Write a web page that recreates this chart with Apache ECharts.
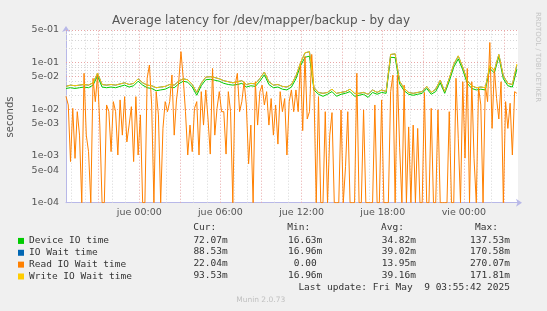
<!DOCTYPE html>
<html><head><meta charset="utf-8">
<script src="https://cdn.jsdelivr.net/npm/echarts@6/dist/echarts.min.js"></script>
<style>html,body{margin:0;padding:0;background:#f0f0f0}#c{width:547px;height:311px}</style>
</head><body><div id="c"></div>
<script>
// ---- data ----
const seriesNames = ['Device IO time', 'IO Wait time', 'Read IO Wait time', 'Write IO Wait time'];
const seriesColors = ['#00cc00', '#0066b3', '#ff8000', '#ffcc00'];
const curVals = ['72.07m', '88.53m', '22.04m', '93.53m'];
const minVals = ['16.63m', '16.96m', '0.00', '16.96m'];
const avgVals = ['34.82m', '39.02m', '13.95m', '39.16m'];
const maxVals = ['137.53m', '170.58m', '270.07m', '171.81m'];
const xTickDays = ['dom', 'lun', 'mar', 'mié', 'jue', 'vie', 'sáb'];
const yTickValues = [0.0001, 0.0005, 0.001, 0.005, 0.01, 0.05, 0.1, 0.5];

const startTime = new Date(2025, 4, 7, 18, 35).getTime();
const endTime = new Date(2025, 4, 9, 4, 0).getTime();

// Device IO time, every 20 min
const deviceVals = [
0.028,0.029,0.028,0.029,0.030,0.029,0.033,0.052,0.030,0.029,
0.030,0.029,0.031,0.033,0.030,0.032,0.040,0.033,0.029,0.028,
0.025,0.026,0.027,0.030,0.029,0.035,0.040,0.038,0.030,0.020,
0.032,0.043,0.044,0.042,0.040,0.036,0.034,0.033,0.034,0.036,
0.030,0.032,0.031,0.040,0.055,0.034,0.029,0.030,0.027,0.026,
0.030,0.045,0.085,0.130,0.1375,0.026,0.021,0.019,0.021,0.024,
0.019,0.021,0.022,0.024,0.019,0.020,0.021,0.018,0.023,0.021,
0.023,0.022,0.130,0.128,0.035,0.025,0.021,0.020,0.021,0.022,
0.028,0.021,0.024,0.037,0.022,0.040,0.080,0.120,0.070,0.036,
0.028,0.026,0.027,0.026,0.075,0.060,0.135,0.045,0.032,0.030,
0.072];
// IO Wait time, every 20 min
const ioWaitVals = [
0.031,0.033,0.032,0.033,0.034,0.033,0.037,0.059,0.034,0.033,
0.034,0.033,0.035,0.037,0.034,0.036,0.045,0.037,0.033,0.032,
0.029,0.030,0.031,0.034,0.033,0.040,0.045,0.043,0.034,0.023,
0.036,0.049,0.050,0.048,0.045,0.041,0.039,0.037,0.039,0.041,
0.034,0.036,0.035,0.046,0.063,0.039,0.033,0.034,0.031,0.030,
0.034,0.052,0.097,0.162,0.1706,0.029,0.023,0.022,0.023,0.027,
0.022,0.023,0.024,0.027,0.022,0.022,0.023,0.021,0.026,0.023,
0.026,0.024,0.149,0.154,0.040,0.028,0.023,0.022,0.023,0.024,
0.031,0.023,0.027,0.042,0.024,0.046,0.091,0.139,0.080,0.041,
0.032,0.029,0.030,0.029,0.085,0.068,0.149,0.052,0.036,0.034,
0.0885];
// Read IO Wait time, every 10 min
const readVals = [
0.019,0.0124,0.00076,0.0105,0.00089,0.0089,0.0028,0.0001,0.059,0.0028,
0.00124,0.0001,0.046,0.0146,0.0545,0.0046,0.0001,0.0001,0.0124,0.0089,
0.00124,0.0146,0.0089,0.00105,0.0159,0.0028,0.0187,0.0020,0.0046,0.0114,
0.00076,0.0187,0.00105,0.0076,0.0001,0.0001,0.0463,0.089,0.0124,0.0001,
0.0239,0.0076,0.0001,0.0039,0.0146,0.0089,0.0146,0.0545,0.0028,0.0159,
0.039,0.172,
0.0463,0.0089,0.00105,0.0046,0.00124,0.0105,0.0146,0.00105,0.0239,0.0046,
0.026,0.0062,0.0011,0.075,0.0028,0.0105,0.0239,0.0089,0.0089,0.0011,
0.0239,0.0089,0.0001,0.033,0.059,0.0089,0.0146,0.039,0.0124,0.00068,
0.0046,0.0001,0.039,0.0046,0.0239,0.033,0.0124,0.0239,0.0046,0.017,
0.0028,0.0124,0.0018,0.0239,0.0089,0.017,0.00105,0.0146,0.026,0.0089,
0.026,0.0089,0.104,
0.0035,0.136,0.0062,0.0089,0.15,0.0239,0.0001,0.0187,0.0001,0.0001,
0.0089,0.0001,0.0028,0.0085,0.0001,0.0001,0.0001,0.0097,0.0001,0.0006,
0.0089,0.0001,0.0001,0.0001,0.059,0.0001,0.0001,0.0097,0.0001,0.0001,
0.0001,0.0001,0.0124,0.0001,0.0001,0.0159,0.0001,0.0001,0.0001,0.0239,
0.054,0.0001,0.054,0.0015,0.0001,0.033,0.0001,0.0042,0.0001,0.0046,
0.0001,0.0039,0.0001,
0.0001,0.023,0.0001,0.0001,0.0105,0.0001,0.0001,0.0097,0.0001,0.0001,
0.0001,0.0001,0.0089,0.0001,0.0001,0.0463,0.0024,0.0001,0.039,0.0009,
0.075,0.0001,0.039,0.00089,0.0001,0.03,0.0124,0.0001,0.033,0.0146,
0.27,0.0039,0.075,0.017,0.0062,0.039,0.0001,0.0146,0.0039,0.0135,
0.00105,0.0239,0.022];
// Write IO Wait time, every 20 min
const writeVals = [
0.031,0.033,0.032,0.033,0.034,0.033,0.037,0.060,0.034,0.033,
0.034,0.033,0.035,0.037,0.034,0.036,0.045,0.037,0.033,0.032,
0.029,0.030,0.031,0.034,0.033,0.040,0.045,0.043,0.034,0.023,
0.036,0.049,0.050,0.048,0.045,0.041,0.039,0.037,0.039,0.041,
0.034,0.036,0.035,0.046,0.063,0.039,0.033,0.034,0.031,0.030,
0.034,0.052,0.098,0.163,0.1718,0.029,0.023,0.022,0.023,0.027,
0.022,0.023,0.024,0.027,0.022,0.022,0.023,0.021,0.026,0.023,
0.026,0.024,0.150,0.155,0.040,0.028,0.023,0.022,0.023,0.024,
0.031,0.023,0.027,0.042,0.024,0.046,0.092,0.140,0.080,0.041,
0.032,0.029,0.030,0.029,0.086,0.068,0.150,0.052,0.036,0.034,
0.0935];

// ---- build ----
function pairs(vals, stepMin) {
  return vals.map((v, i) => [startTime + i * stepMin * 60000, v]);
}
function fmtExp(v) {
  let e = Math.floor(Math.log10(v) + 1e-9);
  let m = Math.round(v / Math.pow(10, e));
  if (m === 10) { m = 1; e++; }
  return m + 'e' + (e < 0 ? '-' : '+') + String(Math.abs(e)).padStart(2, '0');
}
const MAJ = '#e8a6a6', MIN = '#d6d6d6';
const gridLines = [];
for (let e = -4; e <= -1; e++) {
  for (let m = 1; m <= 9; m++) {
    const v = m * Math.pow(10, e);
    if (v > 0.5 + 1e-9) continue;
    const major = (m === 1 || m === 5);
    gridLines.push({ yAxis: v, lineStyle: { color: major ? MAJ : MIN, type: [1, 2], width: 1 } });
  }
}
const xLabelValues = [];
for (let t = new Date(2025, 4, 7, 19, 0).getTime(); t < endTime; t += 3600000) {
  const h = new Date(t).getHours();
  gridLines.push({ xAxis: t, lineStyle: { color: h % 3 === 0 ? MAJ : MIN, type: [1, 2], width: 1 } });
  if (h % 6 === 0) xLabelValues.push(t);
}

const mono = '"DejaVu Sans Mono", monospace';
const graphics = [
  { type: 'text', x: 10, y: 117, rotation: Math.PI / 2,
    style: { text: 'seconds', font: '10px "DejaVu Sans"', fill: '#555', align: 'center', verticalAlign: 'middle' } },
  { type: 'text', x: 537.5, y: 57, rotation: -Math.PI / 2,
    style: { text: 'RRDTOOL / TOBI OETIKER', font: '7px "DejaVu Sans"', fill: '#c4c4c4', align: 'center', verticalAlign: 'middle' } },
  { type: 'text', x: 193.3, y: 228, style: { text: 'Cur:', font: '9.5px ' + mono, fill: '#333', align: 'left', verticalAlign: 'middle' } },
  { type: 'text', x: 287.3, y: 228, style: { text: 'Min:', font: '9.5px ' + mono, fill: '#333', align: 'left', verticalAlign: 'middle' } },
  { type: 'text', x: 381, y: 228, style: { text: 'Avg:', font: '9.5px ' + mono, fill: '#333', align: 'left', verticalAlign: 'middle' } },
  { type: 'text', x: 475, y: 228, style: { text: 'Max:', font: '9.5px ' + mono, fill: '#333', align: 'left', verticalAlign: 'middle' } },
  { type: 'text', x: 510, y: 288, style: { text: 'Last update: Fri May  9 03:55:42 2025', font: '9.5px ' + mono, fill: '#333', align: 'right', verticalAlign: 'middle' } },
  { type: 'text', x: 260.7, y: 300.5, style: { text: 'Munin 2.0.73', font: '7.5px "DejaVu Sans"', fill: '#c0c0c0', align: 'center', verticalAlign: 'middle' } }
];
const rowY = [240.2, 251.9, 263.6, 275.8];
const colX = [227.7, 322.3, 416, 510];
[curVals, minVals, avgVals, maxVals].forEach((col, ci) => {
  col.forEach((txt, ri) => {
    const hasUnit = /m$/.test(txt);
    graphics.push({ type: 'text', x: colX[ci] - (hasUnit ? 0 : 5.7), y: rowY[ri],
      style: { text: txt, font: '9.5px ' + mono, fill: '#333', align: 'right', verticalAlign: 'middle' } });
  });
});

const dataSets = [pairs(deviceVals, 20), pairs(ioWaitVals, 20), pairs(readVals, 10), pairs(writeVals, 20)];
const series = [{
  type: 'line', name: '_grid', data: [], silent: true,
  markLine: { z: 1, silent: true, symbol: ['none', 'none'], animation: false, label: { show: false }, data: gridLines }
}];
seriesNames.forEach((n, i) => {
  series.push({ type: 'line', name: n, data: dataSets[i], showSymbol: false, symbol: 'none',
    lineStyle: { width: 1, color: seriesColors[i] }, itemStyle: { color: seriesColors[i] },
    z: 2 + i, clip: true });
});

const chart = echarts.init(document.getElementById('c'), null, { renderer: 'canvas' });
chart.setOption({
  animation: false,
  backgroundColor: '#f0f0f0',
  title: { text: 'Average latency for /dev/mapper/backup - by day', left: 107, top: 10,
    textStyle: { fontSize: 12, fontWeight: 'normal', color: '#555', fontFamily: 'DejaVu Sans' } },
  legend: { data: seriesNames, orient: 'vertical', left: 13, top: 230, itemWidth: 6, itemHeight: 6, itemGap: 0,
    icon: 'rect', selectedMode: false,
    textStyle: { fontFamily: mono, fontSize: 9.5, color: '#333', lineHeight: 11.85 } },
  grid: { left: 66, right: 29, top: 30, bottom: 108.3, show: true, backgroundColor: '#ffffff', borderWidth: 0 },
  xAxis: {
    type: 'value', min: startTime, max: endTime,
    axisLine: { show: true, lineStyle: { color: '#b8b8e8' }, symbol: ['none', 'arrow'], symbolSize: [6, 6], symbolOffset: [0, 4] },
    axisTick: { show: false },
    splitLine: { show: false },
    axisLabel: { margin: 5, color: '#555', fontSize: 9.5, fontFamily: 'DejaVu Sans', customValues: xLabelValues,
      formatter: function (v) {
        const d = new Date(v);
        return xTickDays[d.getDay()] + ' ' + String(d.getHours()).padStart(2, '0') + ':00';
      } }
  },
  yAxis: {
    type: 'log', logBase: 10, min: 0.0001, max: 0.5,
    axisLine: { show: true, lineStyle: { color: '#b8b8e8' }, symbol: ['none', 'arrow'], symbolSize: [6, 6], symbolOffset: [0, 4] },
    axisTick: { show: false },
    splitLine: { show: false },
    minorTick: { show: false },
    axisLabel: { margin: 7, color: '#555', fontSize: 9.5, fontFamily: 'DejaVu Sans', customValues: yTickValues, formatter: fmtExp }
  },
  graphic: graphics,
  series: series
});
</script></body></html>
